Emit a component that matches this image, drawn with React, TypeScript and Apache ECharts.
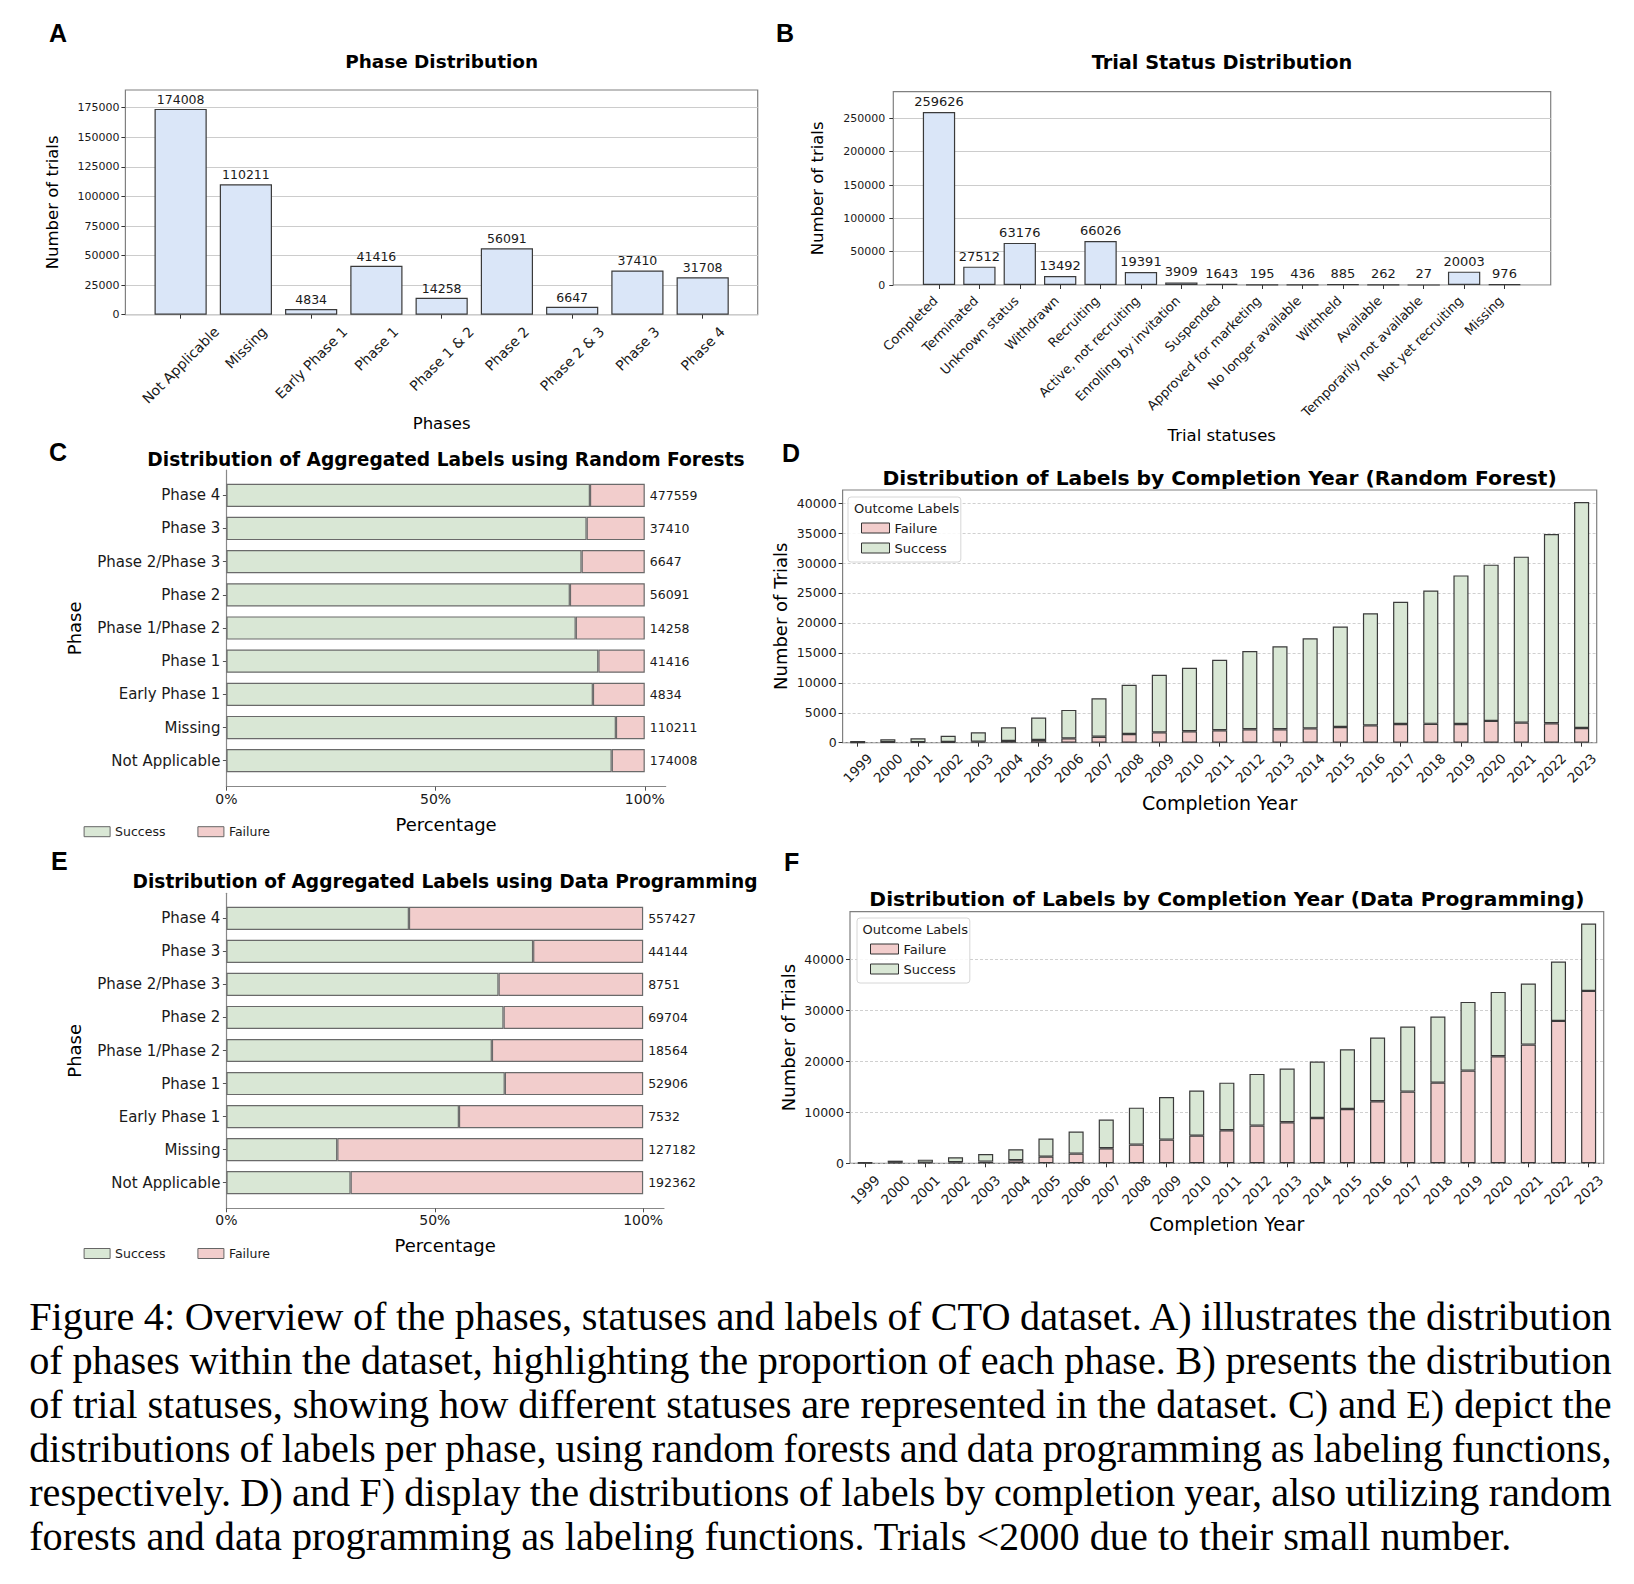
import React, { useEffect, useRef } from 'react';
import * as echarts from 'echarts';

// ---------------- DATA ----------------
const phases = ['Not Applicable', 'Missing', 'Early Phase 1', 'Phase 1', 'Phase 1 & 2', 'Phase 2', 'Phase 2 & 3', 'Phase 3', 'Phase 4'];
const phaseCounts = [174008, 110211, 4834, 41416, 14258, 56091, 6647, 37410, 31708];
const phaseTicks = [0, 25000, 50000, 75000, 100000, 125000, 150000, 175000];

const statuses = ['Completed', 'Terminated', 'Unknown status', 'Withdrawn', 'Recruiting', 'Active, not recruiting', 'Enrolling by invitation', 'Suspended', 'Approved for marketing', 'No longer available', 'Withheld', 'Available', 'Temporarily not available', 'Not yet recruiting', 'Missing'];
const statusCounts = [259626, 27512, 63176, 13492, 66026, 19391, 3909, 1643, 195, 436, 885, 262, 27, 20003, 976];
const statusTicks = [0, 50000, 100000, 150000, 200000, 250000];

const labelPhases = ['Not Applicable', 'Missing', 'Early Phase 1', 'Phase 1', 'Phase 1/Phase 2', 'Phase 2', 'Phase 2/Phase 3', 'Phase 3', 'Phase 4'];
const rfSuccessPct = [92.1, 93.1, 87.6, 88.9, 83.5, 82.1, 84.9, 86.1, 86.9];
const rfFailurePct = [7.9, 6.9, 12.4, 11.1, 16.5, 17.9, 15.1, 13.9, 13.1];
const rfTotals = [174008, 110211, 4834, 41416, 14258, 56091, 6647, 37410, 477559];
const dpSuccessPct = [29.8, 26.6, 55.8, 66.8, 63.7, 66.5, 65.3, 73.6, 43.8];
const dpFailurePct = [70.2, 73.4, 44.2, 33.2, 36.3, 33.5, 34.7, 26.4, 56.2];
const dpTotals = [192362, 127182, 7532, 52906, 18564, 69704, 8751, 44144, 557427];
const percentTicks = [0, 50, 100];

const years = ['1999', '2000', '2001', '2002', '2003', '2004', '2005', '2006', '2007', '2008', '2009', '2010', '2011', '2012', '2013', '2014', '2015', '2016', '2017', '2018', '2019', '2020', '2021', '2022', '2023'];
const rfYearFailure = [40, 90, 100, 120, 170, 280, 450, 730, 1000, 1450, 1730, 1900, 2070, 2240, 2240, 2400, 2630, 2900, 3130, 3150, 3130, 3640, 3350, 3250, 2460];
const rfYearSuccess = [240, 470, 626, 1050, 1560, 2290, 3740, 4750, 6430, 8220, 9610, 10620, 11790, 13070, 13850, 15030, 16760, 18720, 20400, 22270, 24810, 26090, 27720, 31610, 37740];
const rfYearTicks = [0, 5000, 10000, 15000, 20000, 25000, 30000, 35000, 40000];
const dpYearFailure = [65, 130, 130, 200, 330, 590, 1310, 1900, 2950, 3670, 4650, 5430, 6480, 7400, 8050, 8900, 10670, 12180, 14080, 15840, 18200, 21020, 23310, 27960, 33850];
const dpYearSuccess = [130, 390, 590, 980, 1500, 2160, 3540, 4320, 5630, 7260, 8380, 8840, 9360, 10150, 10540, 11070, 11720, 12500, 12760, 12970, 13490, 12630, 11980, 11650, 13220];
const dpYearTicks = [0, 10000, 20000, 30000, 40000];

const panelLetters = ['A', 'B', 'C', 'D', 'E', 'F'];
const panelTitles = [
  'Phase Distribution',
  'Trial Status Distribution',
  'Distribution of Aggregated Labels using Random Forests',
  'Distribution of Labels by Completion Year (Random Forest)',
  'Distribution of Aggregated Labels using Data Programming',
  'Distribution of Labels by Completion Year (Data Programming)',
];

const captionLines = [
  'Figure 4: Overview of the phases, statuses and labels of CTO dataset. A) illustrates the distribution',
  'of phases within the dataset, highlighting the proportion of each phase. B) presents the distribution',
  'of trial statuses, showing how different statuses are represented in the dataset. C) and E) depict the',
  'distributions of labels per phase, using random forests and data programming as labeling functions,',
  'respectively. D) and F) display the distributions of labels by completion year, also utilizing random',
  'forests and data programming as labeling functions. Trials <2000 due to their small number.',
];

// ---------------- STYLE / LAYOUT ----------------
const FONT = 'DejaVu Sans';
const SERIF = 'Liberation Serif';
const BLUE = '#dae6f8';
const GREEN = '#d9e7d5';
const PINK = '#f2cdcc';
const FRAME = '#808080';
const TXT = '#1a1a1a';

let measureCtx: CanvasRenderingContext2D | null = null;
function textWidth(text: string, size: number, weight = 'normal', family = FONT) {
  if (!measureCtx) measureCtx = document.createElement('canvas').getContext('2d');
  measureCtx!.font = `${weight} ${size}px "${family}"`;
  return measureCtx!.measureText(text).width;
}
function fitSize(text: string, target: number, weight = 'normal', family = FONT) {
  return (target / textWidth(text, 100, weight, family)) * 100;
}

function gridRect(l: number, t: number, r: number, b: number, show = false) {
  return { left: l, top: t, width: r - l, height: b - t, show, borderColor: FRAME, borderWidth: 1.2, backgroundColor: 'transparent' };
}
function hiddenValue(gridIndex: number, min: number, max: number) {
  return { type: 'value', gridIndex, min, max, show: false };
}
const plain = (v: number) => String(v);

function buildOption(): any {
  const grids = [
    gridRect(125.4, 90, 757.7, 314.7, true), // 0 A frame
    gridRect(148, 90, 735.3, 314.7), // 1 A bars
    gridRect(893.3, 91.7, 1550.7, 285, true), // 2 B frame
    gridRect(918.8, 91.7, 1524.7, 285), // 3 B bars
    gridRect(226.4, 470, 665.7, 786.7), // 4 C frame
    gridRect(226.4, 478.7, 665.7, 777.3), // 5 C bars
    gridRect(842.6, 490, 1596.7, 742.7, true), // 6 D
    gridRect(226.4, 893.3, 664, 1208.3), // 7 E frame
    gridRect(226.4, 901.8, 664, 1199.2), // 8 E bars
    gridRect(850, 911.7, 1603.7, 1163.3, true), // 9 F
  ];

  const tick = (len: number) => ({ show: true, length: len, lineStyle: { color: '#333', width: 1 } });

  // rotated, centred tick labels are drawn as graphic texts at the axis' own tick positions (see rotatedLabels)
  const yearAxis = (gridIndex: number) => ({
    type: 'category', gridIndex, data: years,
    axisLine: { show: false },
    axisTick: { ...tick(4), alignWithLabel: true },
    axisLabel: { show: false },
    name: 'Completion Year', nameLocation: 'middle', nameGap: 51, nameMoveOverlap: false, nameTextStyle: { fontSize: 19, color: '#000' },
  });
  const pctAxis = (gridIndex: number) => ({
    type: 'value', gridIndex, min: 0, max: 105, interval: 50,
    axisLine: { show: true, onZero: false, lineStyle: { color: '#888', width: 1.2 } },
    axisTick: { show: true, length: 4, customValues: percentTicks, lineStyle: { color: '#555' } },
    axisLabel: { customValues: percentTicks, formatter: '{value}%', fontSize: 14, margin: 5, color: TXT },
    splitLine: { show: false },
    name: 'Percentage', nameLocation: 'middle', nameGap: 28.5, nameMoveOverlap: false, nameTextStyle: { fontSize: 18, color: '#000' },
  });
  const phaseFrameY = (gridIndex: number) => ({
    type: 'value', gridIndex, min: 0, max: 1,
    axisLine: { show: true, onZero: false, lineStyle: { color: '#888', width: 1.2 } },
    axisTick: { show: false }, axisLabel: { show: false }, splitLine: { show: false },
    name: 'Phase', nameLocation: 'middle', nameGap: 143, nameMoveOverlap: false, nameTextStyle: { fontSize: 18, color: '#000' },
  });
  const phaseCatY = (gridIndex: number) => ({
    type: 'category', gridIndex, data: labelPhases,
    axisLine: { show: false },
    axisTick: { show: true, alignWithLabel: true, length: 3.5, lineStyle: { color: '#555' } },
    axisLabel: { interval: 0, fontSize: 15, margin: 6, color: TXT },
  });
  const countY = (gridIndex: number, max: number, interval: number, ticks: number[], name: string, nameGap: number, fs: number, nfs: number, margin: number, dashed: boolean) => ({
    type: 'value', gridIndex, min: 0, max, interval,
    axisLine: { show: false },
    axisTick: { ...tick(4), customValues: ticks },
    axisLabel: { customValues: ticks, formatter: plain, fontSize: fs, margin, color: TXT },
    splitLine: { show: true, lineStyle: dashed ? { color: '#c4c4c4', width: 0.8, type: [3, 2] } : { color: '#cccccc', width: 1 } },
    name, nameLocation: 'middle', nameGap, nameMoveOverlap: false, nameTextStyle: { fontSize: nfs, color: '#000' },
  });

  const xAxis = [
    hiddenValue(0, 0, 1),
    {
      type: 'category', gridIndex: 1, data: phases,
      axisLine: { show: false }, axisTick: { ...tick(4), alignWithLabel: true },
      axisLabel: { show: false },
      name: 'Phases', nameLocation: 'middle', nameGap: 100.3, nameMoveOverlap: false, nameTextStyle: { fontSize: 16.5, color: '#000' },
    },
    hiddenValue(2, 0, 1),
    {
      type: 'category', gridIndex: 3, data: statuses,
      axisLine: { show: false }, axisTick: { ...tick(4), alignWithLabel: true },
      axisLabel: { interval: 0, rotate: 45, margin: 10, fontSize: 13, color: TXT, padding: [0, 5, 0, 0] },
      name: 'Trial statuses', nameLocation: 'middle', nameGap: 141.7, nameMoveOverlap: false, nameTextStyle: { fontSize: 16.5, color: '#000' },
    },
    pctAxis(4),
    hiddenValue(5, 0, 105),
    yearAxis(6),
    pctAxis(7),
    hiddenValue(8, 0, 105),
    yearAxis(9),
  ];

  const yAxis = [
    countY(0, 190000, 25000, phaseTicks, 'Number of trials', 64.2, 11, 16.5, 6, false),
    hiddenValue(1, 0, 190000),
    countY(2, 290000, 50000, statusTicks, 'Number of trials', 67, 11, 16.5, 8, false),
    hiddenValue(3, 0, 290000),
    phaseFrameY(4),
    phaseCatY(5),
    countY(6, 42200, 5000, rfYearTicks, 'Number of Trials', 53.6, 12.5, 18, 6, true),
    phaseFrameY(7),
    phaseCatY(8),
    countY(9, 49400, 10000, dpYearTicks, 'Number of Trials', 53, 12.5, 18, 6, true),
  ];

  const darkEdge = { borderColor: '#3a3a3a', borderWidth: 1.2 };
  const greyEdge = { borderColor: '#6a6a6a', borderWidth: 1.2 };
  const countLabel = (totals: number[]) => ({
    show: true, position: 'right', distance: 5, fontSize: 12.5, color: TXT,
    formatter: (p: any) => String(totals[p.dataIndex]),
  });

  const series = [
    {
      type: 'bar', name: 'Phases', xAxisIndex: 1, yAxisIndex: 1, data: phaseCounts, barWidth: '80%',
      itemStyle: { color: BLUE, ...darkEdge },
      label: { show: true, position: 'top', distance: 3, fontSize: 12.5, color: TXT },
    },
    {
      type: 'bar', name: 'Statuses', xAxisIndex: 3, yAxisIndex: 3, data: statusCounts, barWidth: '80%',
      itemStyle: { color: BLUE, ...darkEdge },
      label: { show: true, position: 'top', distance: 4, fontSize: 13, color: TXT },
    },
    { type: 'bar', name: 'Success', xAxisIndex: 5, yAxisIndex: 5, stack: 'rf', data: rfSuccessPct, barWidth: '70%', itemStyle: { color: GREEN, ...greyEdge } },
    { type: 'bar', name: 'Failure', xAxisIndex: 5, yAxisIndex: 5, stack: 'rf', data: rfFailurePct, barWidth: '70%', itemStyle: { color: PINK, ...greyEdge }, label: countLabel(rfTotals) },
    { type: 'bar', name: 'Failure', xAxisIndex: 6, yAxisIndex: 6, stack: 'rfy', data: rfYearFailure, barWidth: '50%', itemStyle: { color: PINK, ...darkEdge } },
    { type: 'bar', name: 'Success', xAxisIndex: 6, yAxisIndex: 6, stack: 'rfy', data: rfYearSuccess, barWidth: '50%', itemStyle: { color: GREEN, ...darkEdge } },
    { type: 'bar', name: 'Success', xAxisIndex: 8, yAxisIndex: 8, stack: 'dp', data: dpSuccessPct, barWidth: '70%', itemStyle: { color: GREEN, ...greyEdge } },
    { type: 'bar', name: 'Failure', xAxisIndex: 8, yAxisIndex: 8, stack: 'dp', data: dpFailurePct, barWidth: '70%', itemStyle: { color: PINK, ...greyEdge }, label: countLabel(dpTotals) },
    { type: 'bar', name: 'Failure', xAxisIndex: 9, yAxisIndex: 9, stack: 'dpy', data: dpYearFailure, barWidth: '50%', itemStyle: { color: PINK, ...darkEdge } },
    { type: 'bar', name: 'Success', xAxisIndex: 9, yAxisIndex: 9, stack: 'dpy', data: dpYearSuccess, barWidth: '50%', itemStyle: { color: GREEN, ...darkEdge } },
  ];

  const flatLegend = (top: number) => ({
    data: ['Success', 'Failure'], orient: 'horizontal', left: 83.6, top, padding: 0,
    itemWidth: 26, itemHeight: 10, itemGap: 32, icon: 'rect', selectedMode: false,
    itemStyle: { borderColor: '#666', borderWidth: 1 },
    textStyle: { fontSize: 12.5, color: TXT, lineHeight: 14 },
  });
  const boxLegend = (left: number, top: number) => ({
    data: ['Failure', 'Success'], orient: 'vertical', left, top, padding: [24, 14, 7, 13],
    itemWidth: 28, itemHeight: 10, itemGap: 6, icon: 'rect', selectedMode: false,
    backgroundColor: 'rgba(255,255,255,0.85)', borderColor: '#d6d6d6', borderWidth: 1, borderRadius: 3,
    itemStyle: { borderColor: '#333', borderWidth: 1 },
    textStyle: { fontSize: 13, color: TXT, lineHeight: 14 },
  });
  const legend = [flatLegend(824.7), flatLegend(1246.5), boxLegend(848, 497), boxLegend(857, 918)];

  const letterPos = [[49, 32.5], [776, 33.3], [49, 451.7], [782, 453], [51, 861], [784, 861.7]];
  const titlePos = [[441.6, 61.7, 193], [1222, 62, 261], [446, 459, 598], [1219.6, 478.3, 674.2], [445, 881.7, 625.4], [1226.9, 899.3, 715.3]];
  const graphic: any[] = [];
  panelLetters.forEach((t, i) => {
    graphic.push({
      type: 'text', x: letterPos[i][0], y: letterPos[i][1], z: 100,
      style: { text: t, fontSize: 25, fontWeight: 'bold', fontFamily: 'Liberation Sans', fill: '#000', align: 'left', verticalAlign: 'middle' },
    });
  });
  panelTitles.forEach((t, i) => {
    graphic.push({
      type: 'text', x: titlePos[i][0], y: titlePos[i][1], z: 100,
      style: { text: t, fontSize: fitSize(t, titlePos[i][2], 'bold'), fontWeight: 'bold', fontFamily: FONT, fill: '#000', align: 'center', verticalAlign: 'middle' },
    });
  });
  [[854, 508], [862.6, 929]].forEach(([x, y]) => {
    graphic.push({
      type: 'text', x, y, z: 100,
      style: { text: 'Outcome Labels', fontSize: 13, fontFamily: FONT, fill: TXT, align: 'left', verticalAlign: 'middle' },
    });
  });

  return {
    animation: false,
    backgroundColor: '#ffffff',
    textStyle: { fontFamily: FONT },
    grid: grids,
    xAxis,
    yAxis,
    series,
    legend,
    graphic,
  };
}

// matplotlib-style labels: rotated 45deg, centred below the tick (ha="center", va="top")
function rotatedLabels(chart: any, xAxisIndex: number, yAxisIndex: number, cats: string[], fs: number, margin: number) {
  const c = Math.SQRT1_2;
  const axisY = chart.convertToPixel({ yAxisIndex }, 0) as number;
  return cats.map((t, i) => {
    const x = chart.convertToPixel({ xAxisIndex }, i) as number;
    const L = textWidth(t, fs);
    return {
      type: 'text', x, y: axisY + margin + ((L + 0.9 * fs) * c) / 2, rotation: Math.PI / 4, z: 50, silent: true,
      style: { text: t, fontSize: fs, fontFamily: FONT, fill: TXT, align: 'center', verticalAlign: 'middle' },
    };
  });
}

function Caption() {
  const boxW = 1582.5;
  const w6 = textWidth(captionLines[5], 100, 'normal', SERIF);
  const fs = (1483 / w6) * 100;
  const lh = 43.9;
  const top = 1330.7 - ((lh - 1.107 * fs) / 2 + 0.891 * fs);
  const last = captionLines.length - 1;
  return (
    <div style={{ position: 'absolute', left: 29.2, top, width: boxW, fontFamily: `"${SERIF}", "Times New Roman", serif`, fontSize: fs, lineHeight: `${lh}px`, color: '#000' }}>
      {captionLines.map((l, i) => {
        const spaces = l.split(' ').length - 1;
        const w = textWidth(l, fs, 'normal', SERIF);
        const ws = i < last ? Math.min(0, (boxW - 2 - w) / spaces) : 0;
        return (
          <div key={i} style={{ whiteSpace: 'nowrap', wordSpacing: `${ws}px`, textAlign: i < last ? 'justify' : 'left', textAlignLast: i < last ? 'justify' : 'left' } as any}>
            {l}
          </div>
        );
      })}
    </div>
  );
}

export default function App() {
  const ref = useRef<HTMLDivElement>(null);
  useEffect(() => {
    document.body.style.margin = '0';
    if (!ref.current) return;
    const chart = echarts.init(ref.current, undefined, { renderer: 'svg' });
    const option = buildOption();
    chart.setOption(option);
    const extra = [
      ...rotatedLabels(chart, 1, 1, phases, 14, 10),
      ...rotatedLabels(chart, 6, 6, years, 13.5, 9),
      ...rotatedLabels(chart, 9, 9, years, 13.5, 10),
    ];
    chart.setOption({ graphic: [...option.graphic, ...extra] });
    return () => chart.dispose();
  }, []);
  return (
    <div style={{ position: 'relative', width: 1634, height: 1584, background: '#fff', overflow: 'hidden' }}>
      <div ref={ref} style={{ position: 'absolute', left: 0, top: 0, width: 1634, height: 1290 }} />
      <Caption />
    </div>
  );
}
